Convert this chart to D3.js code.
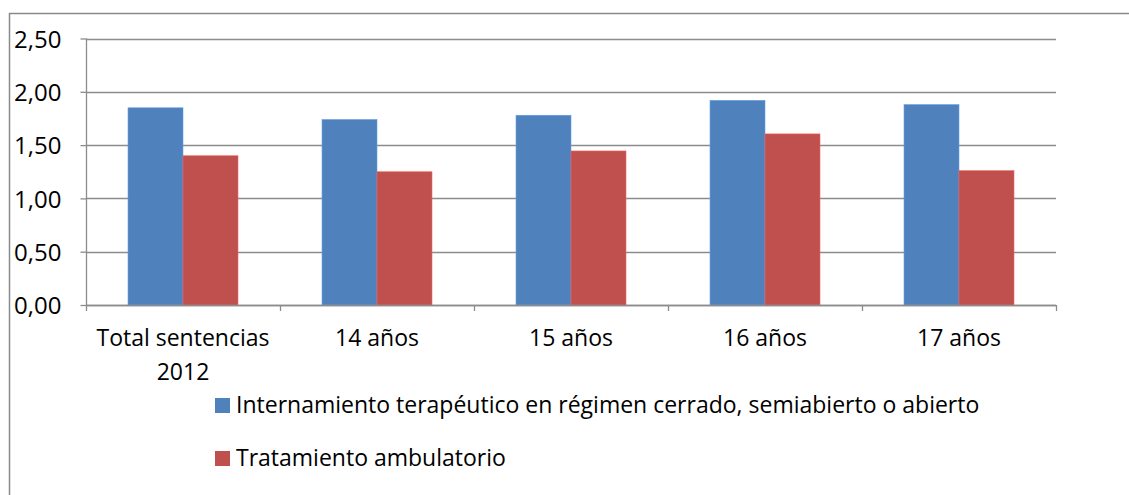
<!DOCTYPE html>
<html><head><meta charset="utf-8">
<script src="https://cdn.jsdelivr.net/npm/d3@7"></script>
<style>body{margin:0;background:#fff}svg{display:block}text{font-family:"Open Sans",sans-serif;fill:#000}</style>
</head><body>
<script>
const categories = [["Total sentencias","2012"],["14 años"],["15 años"],["16 años"],["17 años"]];
const seriesNames = ["Internamiento terapéutico en régimen cerrado, semiabierto o abierto","Tratamiento ambulatorio"];
const internamiento = [1.85, 1.74, 1.78, 1.92, 1.88];
const ambulatorio = [1.40, 1.25, 1.445, 1.605, 1.26];
const yTicks = [0, 0.5, 1, 1.5, 2, 2.5];
const colors = ["#4F81BD", "#C0504D"];

const W = 1129, H = 495;
const FS = 23;
const svg = d3.select("body").append("svg").attr("width", W).attr("height", H);
svg.append("path").attr("d", `M9.5,${H+5}V13.5H${W+5}`).attr("fill","none").attr("stroke","#8a8a8a").attr("stroke-width",1.5);

const x0 = d3.scaleBand().domain(d3.range(categories.length)).range([86, 1056]).paddingInner(0).paddingOuter(0);
const x1 = d3.scaleBand().domain([0,1]).range([0, x0.bandwidth()]).paddingInner(0).paddingOuter(0.764);
const y = d3.scaleLinear().domain([0, 2.5]).range([305, 38.5]);

// gridlines
svg.append("g").selectAll("line").data(yTicks).join("line")
  .attr("x1", 86).attr("x2", 1056).attr("y1", d => Math.round(y(d))+0.5).attr("y2", d => Math.round(y(d))+0.5)
  .attr("stroke", "#8c8c8c").attr("stroke-width", 1.3);

// y axis
const yAxis = svg.append("g").attr("transform","translate(86.5,0)")
  .call(d3.axisLeft(y).tickValues(yTicks).tickSize(6).tickFormat(d => d3.format(".2f")(d).replace(".", ",")));
yAxis.select(".domain").attr("stroke","#8c8c8c").attr("stroke-width",1.3).attr("d","M0,38.5V305");
yAxis.selectAll(".tick line").attr("stroke","#8c8c8c").attr("stroke-width",1.3);
yAxis.selectAll(".tick text").attr("x",-25).attr("dy","0.36em").attr("font-size",24).style("font-family","'Open Sans',sans-serif").attr("fill","#000");

// bars
const data = [internamiento, ambulatorio];
const g = svg.append("g");
categories.forEach((c, i) => {
  data.forEach((s, j) => {
    g.append("rect")
      .attr("x", x0(i) + x1(j)).attr("width", x1.bandwidth())
      .attr("y", y(s[i])).attr("height", y(0) - y(s[i]))
      .attr("fill", colors[j]).attr("stroke", d3.color(colors[j]).brighter(0.6)).attr("stroke-width", 0.6);
  });
});

// x axis
const xAxisG = svg.append("g");
xAxisG.append("line").attr("x1",86).attr("x2",1056).attr("y1",305.5).attr("y2",305.5).attr("stroke","#8c8c8c").attr("stroke-width",1.3);
const bounds = d3.range(categories.length+1).map(i => 86 + i*x0.bandwidth());
xAxisG.selectAll("line.tk").data(bounds).join("line").attr("class","tk")
  .attr("x1", d => Math.round(d)+0.5).attr("x2", d => Math.round(d)+0.5).attr("y1",305).attr("y2",311)
  .attr("stroke","#8c8c8c").attr("stroke-width",1.3);
categories.forEach((c, i) => {
  const t = xAxisG.append("text").attr("text-anchor","middle").attr("font-size",FS);
  c.forEach((line, k) => t.append("tspan").attr("x", x0(i) + x0.bandwidth()/2).attr("y", 346 + k*34).text(line));
});

// legend
const leg = svg.append("g");
seriesNames.forEach((n, j) => {
  const base = 413 + j*53;
  leg.append("rect").attr("x",215).attr("y",base-15).attr("width",15).attr("height",15).attr("fill",colors[j]);
  leg.append("text").attr("x",236).attr("y",base).attr("font-size",FS).text(n);
});
</script>
</body></html>
